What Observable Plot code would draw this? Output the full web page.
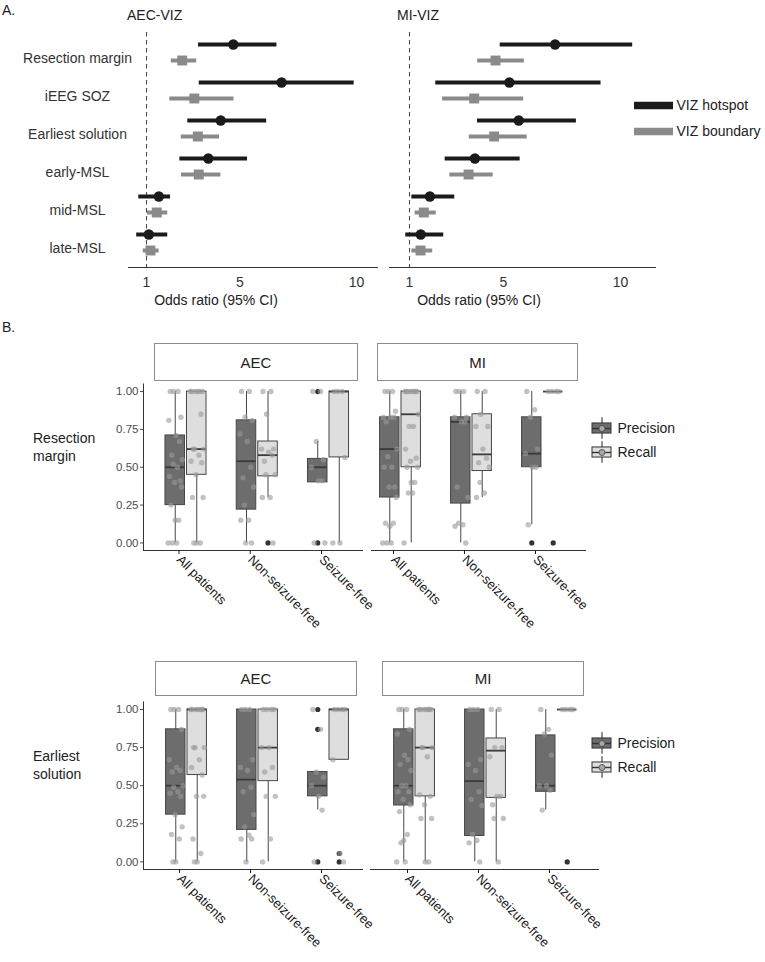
<!DOCTYPE html>
<html><head><meta charset="utf-8">
<script src="https://cdn.jsdelivr.net/npm/d3@7"></script>
<script src="https://cdn.jsdelivr.net/npm/@observablehq/plot@0.6"></script>
<style>
body{margin:0;background:#fff;font-family:"Liberation Sans",Arial,Helvetica,sans-serif;}
#root{position:relative;width:765px;height:962px;overflow:hidden;background:#fff;}
.lbl{position:absolute;color:#222;font-size:14px;white-space:nowrap;line-height:1;}
.strip{position:absolute;box-sizing:border-box;border:1.6px solid #8c8c8c;background:#fff;display:flex;align-items:center;justify-content:center;font-size:15px;color:#222;}
</style></head><body><div id="root"></div>
<script>
// ---------------- Panel A data ----------------
const orRows = ["Resection margin","iEEG SOZ","Earliest solution","early-MSL","mid-MSL","late-MSL"];
const orSeries = ["VIZ hotspot","VIZ boundary"];
const orTicks = [1,5,10];
const aecHotOR = [4.72, 6.79, 4.18, 3.65, 1.53, 1.10];
const aecHotLo = [3.23, 3.26, 2.77, 2.43, 0.67, 0.58];
const aecHotHi = [6.59, 9.90, 6.15, 5.33, 2.03, 1.91];
const aecBndOR = [2.53, 3.05, 3.20, 3.24, 1.44, 1.17];
const aecBndLo = [2.06, 2.00, 2.49, 2.50, 1.04, 0.86];
const aecBndHi = [3.15, 4.75, 4.13, 4.19, 1.91, 1.54];
const miHotOR = [7.21, 5.26, 5.66, 3.79, 1.87, 1.48];
const miHotLo = [4.87, 2.12, 3.90, 2.52, 1.10, 0.84];
const miHotHi = [10.52, 9.17, 8.12, 5.72, 2.93, 2.46];
const miBndOR = [4.67, 3.76, 4.61, 3.52, 1.61, 1.47];
const miBndLo = [3.91, 2.41, 3.55, 2.72, 1.24, 1.10];
const miBndHi = [5.90, 5.87, 6.02, 4.57, 2.14, 1.99];

// ---------------- Panel B data ----------------
const groups = ["All patients","Non-seizure-free","Seizure-free"];
const measures = ["Precision","Recall"];
const yTicks = [0, 0.25, 0.5, 0.75, 1];
// [group, measure, lower whisker, Q1, median, Q3, upper whisker]
const rmAecBox = [
 ["All patients","Precision",0,0.25,0.50,0.71,1],
 ["All patients","Recall",0,0.45,0.62,1,1],
 ["Non-seizure-free","Precision",0,0.22,0.54,0.81,1],
 ["Non-seizure-free","Recall",0.30,0.44,0.58,0.67,1],
 ["Seizure-free","Precision",0.40,0.40,0.50,0.555,0.67],
 ["Seizure-free","Recall",0,0.565,1,1,1]
];
const rmAecOut = [["Non-seizure-free","Recall",0],["Seizure-free","Precision",1],["Seizure-free","Precision",0]];
const rmAecPts = [
 ["All patients","Precision",[1,1,1,0.83,0.81,0.71,0.67,0.58,0.55,0.52,0.50,0.44,0.41,0.40,0.37,0.25,0.15,0.15,0,0,0]],
 ["All patients","Recall",[1,1,1,1,1,1,0.85,0.62,0.62,0.62,0.58,0.54,0.53,0.45,0.30,0.30,0,0,0]],
 ["Non-seizure-free","Precision",[1,1,0.83,0.81,0.72,0.67,0.50,0.43,0.37,0.25,0.15,0.15,0,0]],
 ["Non-seizure-free","Recall",[1,1,0.85,0.62,0.62,0.60,0.58,0.54,0.45,0.45,0.30,0.30,0]],
 ["Seizure-free","Precision",[1,1,0.67,0.55,0.50,0.41,0.41,0,0]],
 ["Seizure-free","Recall",[1,1,1,0.565,0,0]]
];
const rmMiBox = [
 ["All patients","Precision",0,0.30,0.62,0.83,1],
 ["All patients","Recall",0,0.50,0.85,1,1],
 ["Non-seizure-free","Precision",0,0.26,0.80,0.83,1],
 ["Non-seizure-free","Recall",0.30,0.475,0.585,0.85,1],
 ["Seizure-free","Precision",0.12,0.50,0.59,0.83,1],
 ["Seizure-free","Recall",1,1,1,1,1]
];
const rmMiOut = [["Seizure-free","Precision",0],["Seizure-free","Recall",0]];
const rmMiPts = [
 ["All patients","Precision",[1,1,1,0.87,0.83,0.83,0.83,0.80,0.62,0.57,0.50,0.50,0.37,0.37,0.30,0.13,0.13,0.11,0,0,0]],
 ["All patients","Recall",[1,1,1,1,1,1,1,1,0.85,0.77,0.77,0.62,0.56,0.54,0.50,0.50,0.40,0.40,0.33,0.33,0]],
 ["Non-seizure-free","Precision",[1,1,1,0.83,0.83,0.80,0.80,0.37,0.30,0.13,0.12,0.11,0]],
 ["Non-seizure-free","Recall",[1,1,0.85,0.77,0.77,0.62,0.56,0.53,0.50,0.40,0.33,0.30]],
 ["Seizure-free","Precision",[1,0.88,0.83,0.62,0.59,0.50,0.50,0.12]],
 ["Seizure-free","Recall",[1,1,1,1]]
];
const esAecBox = [
 ["All patients","Precision",0,0.31,0.50,0.87,1],
 ["All patients","Recall",0,0.57,1,1,1],
 ["Non-seizure-free","Precision",0,0.21,0.54,1,1],
 ["Non-seizure-free","Recall",0,0.53,0.75,1,1],
 ["Seizure-free","Precision",0.34,0.43,0.50,0.59,0.59],
 ["Seizure-free","Recall",0.67,0.67,1,1,1]
];
const esAecOut = [["Seizure-free","Precision",1],["Seizure-free","Precision",0.87],["Seizure-free","Precision",0],["Seizure-free","Recall",0.055],["Seizure-free","Recall",0]];
const esAecPts = [
 ["All patients","Precision",[1,1,1,0.87,0.67,0.62,0.60,0.59,0.50,0.49,0.46,0.45,0.43,0.31,0.23,0.18,0.15,0,0]],
 ["All patients","Recall",[1,1,1,1,1,1,1,0.75,0.75,0.75,0.67,0.62,0.57,0.43,0.43,0.15,0.055,0,0]],
 ["Non-seizure-free","Precision",[1,1,1,0.67,0.62,0.60,0.49,0.46,0.31,0.23,0.175,0.15,0.15,0]],
 ["Non-seizure-free","Recall",[1,1,1,1,0.75,0.75,0.62,0.59,0.43,0.43,0.15,0]],
 ["Seizure-free","Precision",[1,0.87,0.59,0.555,0.50,0.43,0.34,0]],
 ["Seizure-free","Recall",[1,1,1,1,0.67,0.055,0]]
];
const esMiBox = [
 ["All patients","Precision",0,0.37,0.50,0.87,1],
 ["All patients","Recall",0,0.43,0.75,1,1],
 ["Non-seizure-free","Precision",0,0.17,0.53,1,1],
 ["Non-seizure-free","Recall",0,0.42,0.73,0.81,1],
 ["Seizure-free","Precision",0.34,0.46,0.50,0.83,1],
 ["Seizure-free","Recall",1,1,1,1,1]
];
const esMiOut = [["Seizure-free","Recall",0]];
const esMiPts = [
 ["All patients","Precision",[1,1,1,0.87,0.84,0.70,0.67,0.64,0.60,0.50,0.50,0.46,0.46,0.41,0.375,0.33,0.18,0.14,0.125,0,0]],
 ["All patients","Recall",[1,1,1,1,1,1,1,0.75,0.75,0.75,0.69,0.44,0.43,0.375,0.285,0.285,0,0]],
 ["Non-seizure-free","Precision",[1,1,1,0.67,0.64,0.60,0.46,0.41,0.37,0.18,0.14,0.125,0]],
 ["Non-seizure-free","Recall",[1,1,0.75,0.75,0.69,0.43,0.43,0.375,0.285,0.285,0]],
 ["Seizure-free","Precision",[1,0.87,0.84,0.70,0.50,0.50,0.47,0.34]],
 ["Seizure-free","Recall",[1,1,1,1]]
];

// ---------------- styling / layout ----------------
const FONT = '"Liberation Sans", Arial, Helvetica, sans-serif';
const HOT = "#1a1a1a", BND = "#8a8a8a";
const PREC_FILL = "#6d6d6d", REC_FILL = "#dedede", LINE = "#474747";
const DODGE = 0.151, HALF = 0.137;
const JIT = [-0.07,0.04,-0.02,0.08,-0.09,0.01,0.06,-0.05,0.1,-0.03,0.03,-0.08,0.07,-0.01,0.09,-0.06,0.05,0,-0.04,0.02,-0.1];
const root = document.getElementById("root");
const baseStyle = {background:"transparent", overflow:"visible", fontFamily: FONT, fontSize:"14px", color:"#222"};

function place(el, x, y){ el.style.position="absolute"; el.style.left=x+"px"; el.style.top=y+"px"; root.appendChild(el); }
function label(txt, x, y, anchor="start", size=14, color="#222"){
  const d=document.createElement("div"); d.className="lbl"; d.textContent=txt;
  d.style.left=x+"px"; d.style.top=y+"px"; d.style.fontSize=size+"px"; d.style.color=color;
  const tx = anchor==="middle"?"-50%":anchor==="end"?"-100%":"0";
  d.style.transform=`translate(${tx},-50%)`; root.appendChild(d);
}
function strip(txt, x, y, w, h){
  const d=document.createElement("div"); d.className="strip"; d.textContent=txt;
  d.style.left=x+"px"; d.style.top=y+"px"; d.style.width=w+"px"; d.style.height=h+"px"; root.appendChild(d);
}
const orTable = (series, ors, los, his) => orRows.map((row,i)=>({row, series, or: ors[i], lo: los[i], hi: his[i]}));

// ---------------- Panel A ----------------
function forest({width, mL, mR, domain, hot, bnd, showY}){
  return Plot.plot({
    width, height:310, marginLeft:mL, marginRight:mR, marginTop:32, marginBottom:43,
    style: baseStyle,
    x:{domain}, y:{type:"point", domain: orRows, range:[50,243.5], padding:0, axis: showY ? undefined : null},
    marks:[
      Plot.ruleX([1], {stroke:"#4d4d4d", strokeDasharray:"4.5,3.5", strokeWidth:1.1}),
      Plot.frame({anchor:"bottom", stroke:"#333"}),
      Plot.axisX({ticks: orTicks, tickSize:0, tickPadding:10, fontSize:14, color:"#333", label:null}),
      showY ? Plot.axisY({tickSize:0, tickPadding:51, textAnchor:"middle", dy:6, fontSize:14, color:"#333", label:null}) : null,
      Plot.ruleY(hot, {y:"row", x1:"lo", x2:"hi", dy:-8, stroke:HOT, strokeWidth:4}),
      Plot.dot(hot, {x:"or", y:"row", dy:-8, r:5.2, fill:HOT}),
      Plot.ruleY(bnd, {y:"row", x1:"lo", x2:"hi", dy:8, stroke:BND, strokeWidth:4}),
      Plot.dot(bnd, {x:"or", y:"row", dy:8, symbol:"square", r:5.6, fill:BND})
    ]
  });
}
// left: frame 128..377 ; 1 -> 146, 10 -> 356
place(forest({width:380, mL:128, mR:3, domain:[1-18/23.333, 1+231/23.333],
  hot: orTable("VIZ hotspot", aecHotOR, aecHotLo, aecHotHi),
  bnd: orTable("VIZ boundary", aecBndOR, aecBndLo, aecBndHi), showY:true}), 0, 0);
// right: frame 389..655 ; 1 -> 409, 10 -> 620
place(forest({width:385, mL:9, mR:110, domain:[1-20/23.444, 1+246/23.444],
  hot: orTable("VIZ hotspot", miHotOR, miHotLo, miHotHi),
  bnd: orTable("VIZ boundary", miBndOR, miBndLo, miBndHi), showY:false}), 380, 0);

// legend A
place(Plot.plot({
  width:131, height:70, marginLeft:0, marginRight:92, marginTop:0, marginBottom:0,
  style: baseStyle,
  x:{domain:[0,1], axis:null}, y:{domain:[0,1], range:[25,51], axis:null},
  color:{domain: orSeries, range:[HOT, BND]},
  symbol:{domain: orSeries, range:["circle","square"]},
  marks:[
    Plot.ruleY(orSeries, {y:(d,i)=>i, stroke:d=>d, strokeWidth:7.5}),
    Plot.dot(orSeries, {x:0.5, y:(d,i)=>i, symbol:d=>d, fill:d=>d, r:d=>d===orSeries[0]?6.6:7.2}),
    Plot.text(orSeries, {y:(d,i)=>i, text:d=>d, frameAnchor:"right", dx:3, textAnchor:"start", fontSize:14, fill:"#222"})
  ]
}), 634, 80);

label("A.", 2, 10, "start", 14);
label("AEC-VIZ", 127, 15, "start", 14);
label("MI-VIZ", 397, 15, "start", 14);
label("Odds ratio (95% CI)", 216, 300, "middle", 14);
label("Odds ratio (95% CI)", 479, 300, "middle", 14);

// ---------------- Panel B ----------------
function boxPanel({width, height, mL, mR, mT, mB, c0, step, frameL, frameR, boxes, outs, pts, showY}){
  const B = boxes.map(([g,m,lo,q1,med,q3,hi])=>({g,m,lo,q1,med,q3,hi}));
  const O = outs.map(([g,m,v])=>({g,m,v}));
  const P = pts.flatMap(([g,m,vals])=>vals.map((v,k)=>({g,m,v,k})));
  const cx = d => groups.indexOf(d.g) + (d.m==="Precision" ? -DODGE : DODGE);
  const xd = [-(c0-frameL)/step, 2 + (frameR - c0 - 2*step)/step];
  return Plot.plot({
    width, height, marginLeft:mL, marginRight:mR, marginTop:mT, marginBottom:mB,
    style: baseStyle,
    x:{domain: xd}, y:{domain:[-0.05,1.05], axis: showY ? undefined : null},
    color:{domain: measures, range:[PREC_FILL, REC_FILL]},
    marks:[
      Plot.frame({anchor:"bottom", stroke:"#333"}),
      showY ? Plot.frame({anchor:"left", stroke:"#333"}) : null,
      showY ? Plot.axisY({ticks: yTicks, tickFormat: d3.format(".2f"), tickSize:3, tickPadding:2, fontSize:11.5, color:"#4d4d4d", label:null}) : null,
      Plot.axisX({ticks:[0,1,2], tickFormat: i=>groups[i], tickSize:4, tickPadding:3, tickRotate:45, textAnchor:"start", dx:-7, fontSize:13, color:"#1a1a1a", label:null}),
      Plot.ruleX(B, {x:cx, y1:"q3", y2:"hi", stroke:LINE, strokeWidth:1}),
      Plot.ruleX(B, {x:cx, y1:"lo", y2:"q1", stroke:LINE, strokeWidth:1}),
      Plot.rect(B, {x1:d=>cx(d)-HALF, x2:d=>cx(d)+HALF, y1:"q1", y2:"q3", fill:"m", stroke:LINE, strokeWidth:1}),
      Plot.ruleY(B, {y:"med", x1:d=>cx(d)-HALF, x2:d=>cx(d)+HALF, stroke:"#3a3a3a", strokeWidth:1.8}),
      Plot.dot(O, {x:cx, y:"v", r:2.6, fill:"#333"}),
      Plot.dot(P, {x:d=>cx(d)+JIT[d.k % JIT.length], y:"v", r:2.7, fill:"#9a9a9a", fillOpacity:0.6})
    ]
  });
}
function boxLegend(top){
  place(Plot.plot({
    width:120, height:60, marginLeft:0, marginRight:101, marginTop:0, marginBottom:0,
    style: baseStyle,
    x:{domain:[-1,1], axis:null}, y:{domain:[0,1], range:[20,44], axis:null},
    color:{domain: measures, range:[PREC_FILL, REC_FILL]},
    marks:[
      Plot.ruleX(measures, {x:0, y1:(d,i)=>i-0.45, y2:(d,i)=>i+0.45, stroke:"#222", strokeWidth:1}),
      Plot.rect(measures, {x1:-1, x2:1, y1:(d,i)=>i-0.21, y2:(d,i)=>i+0.21, fill:d=>d, stroke:"#333", strokeWidth:1}),
      Plot.ruleY(measures, {y:(d,i)=>i, x1:-1, x2:1, stroke:"#333", strokeWidth:1.4}),
      Plot.dot(measures, {x:0, y:(d,i)=>i, r:3, fill:"#a8a8a8", stroke:"#444", strokeWidth:0.8}),
      Plot.text(measures, {y:(d,i)=>i, text:d=>d, frameAnchor:"right", dx:6, textAnchor:"start", fontSize:14, fill:"#222"})
    ]
  }), 592, top);
}

// top row (Resection margin): svg top 380, frame y 383.5..550
place(boxPanel({width:366, height:250, mL:143, mR:4, mT:3.5, mB:80, c0:185.5, step:71.25, frameL:143, frameR:362,
  boxes:rmAecBox, outs:rmAecOut, pts:rmAecPts, showY:true}), 0, 380);
place(boxPanel({width:234, height:250, mL:5, mR:15, mT:3.5, mB:80, c0:400-366, step:71, frameL:5, frameR:219,
  boxes:rmMiBox, outs:rmMiOut, pts:rmMiPts, showY:false}), 366, 380);
// bottom row (Earliest solution): svg top 698, frame y 701.4..869
place(boxPanel({width:366, height:250, mL:143, mR:4, mT:3.4, mB:79, c0:186, step:71, frameL:143, frameR:362,
  boxes:esAecBox, outs:esAecOut, pts:esAecPts, showY:true}), 0, 698);
place(boxPanel({width:240, height:250, mL:4, mR:8, mT:3.4, mB:79, c0:414-366, step:71, frameL:4, frameR:232,
  boxes:esMiBox, outs:esMiOut, pts:esMiPts, showY:false}), 366, 698);

boxLegend(408);
boxLegend(723);

strip("AEC", 154, 343, 204, 38);
strip("MI", 377, 343, 201, 38);
strip("AEC", 155, 661, 202, 35);
strip("MI", 382, 661, 202, 35);

label("B.", 2, 327, "start", 14);
label("Resection", 33, 438, "start", 14);
label("margin", 33, 456, "start", 14);
label("Earliest", 33, 756, "start", 14);
label("solution", 33, 774, "start", 14);
</script></body></html>
